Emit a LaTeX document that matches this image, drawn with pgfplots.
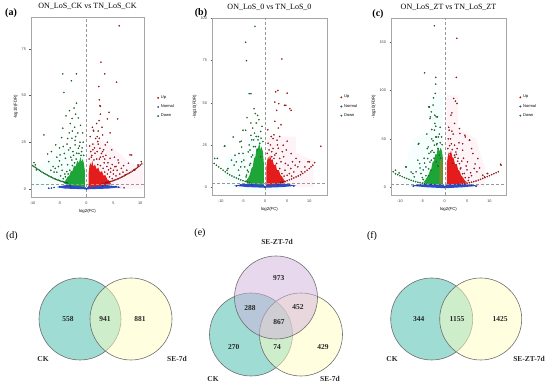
\documentclass[border=0pt]{standalone}
\usepackage{pgfplots}
\pgfplotsset{compat=1.18}
\usepackage{fontspec}
\setmainfont{Liberation Serif}
\setsansfont{Liberation Sans}
\definecolor{upred}{RGB}{228,28,28}
\definecolor{dngreen}{RGB}{30,165,55}
\definecolor{nblue}{RGB}{45,75,200}
\definecolor{pinkf}{RGB}{254,244,248}
\definecolor{cyanf}{RGB}{246,254,254}
\definecolor{olivef}{RGB}{120,140,50}
\definecolor{vteal}{RGB}{61,185,169}
\definecolor{vyellow}{RGB}{255,255,193}
\definecolor{vpurple}{RGB}{209,177,221}
\definecolor{vline}{RGB}{110,110,110}
\pgfplotsset{
 volc/.style={scale only axis, axis line style={gray!70, line width=0.4pt},
  tick align=outside, tick pos=left, major tick length=1.5pt,
  every tick/.style={gray!70!black, line width=0.3pt},
  tick label style={font=\fontsize{3.8}{4}\sffamily, text=black!75},
  /pgf/number format/assume math mode=true,
  label style={font=\fontsize{4.3}{5}\sffamily},
  title style={font=\fontsize{8}{9}\selectfont, at={(0.5,1)}, anchor=south, yshift=-1.8pt},
  legend style={at={(1.09,0.5)}, anchor=west, draw=none, fill=none, font=\fontsize{4}{5}\sffamily, row sep=0.8pt},
  legend cell align=left,
  xlabel={log2(FC)}, ylabel={-log10(FDR)},
  xlabel style={yshift=2pt}, ylabel style={yshift=-3pt}},
 ptR/.style={only marks, mark=*, mark size=0.7pt, mark options={fill=upred, draw=upred!45!black, line width=0.15pt}, forget plot},
 ptG/.style={only marks, mark=*, mark size=0.7pt, mark options={fill=dngreen, draw=dngreen!40!black, line width=0.15pt}, forget plot},
 ptB/.style={only marks, mark=*, mark size=0.7pt, mark options={fill=nblue, draw=nblue!50!black, line width=0.15pt}, forget plot},
 areaf/.style={draw=none, fill=#1, forget plot},
 dashl/.style={densely dashed, gray!80, line width=0.35pt, forget plot}
}
\newcommand{\volclegend}{%
 \addlegendimage{only marks, mark=*, mark size=0.8pt, mark options={fill=upred, draw=upred!45!black, line width=0.15pt}}
 \addlegendimage{only marks, mark=*, mark size=0.8pt, mark options={fill=nblue, draw=nblue!50!black, line width=0.15pt}}
 \addlegendimage{only marks, mark=*, mark size=0.8pt, mark options={fill=dngreen, draw=dngreen!40!black, line width=0.15pt}}
 \legend{Up,Normal,Down}}
\begin{document}
\begin{tikzpicture}
\path[use as bounding box] (0,0) rectangle (550pt,-387pt);
% ---------------- (a)
\begin{axis}[volc, at={(31pt,-197pt)}, anchor=south west, width=113pt, height=180pt,
 xmin=-10.3, xmax=10.7, ymin=-4.3, ymax=92, xtick={-10,-5,0,5,10}, ytick={0,25,50,75},
 title={ON\_LoS\_CK vs TN\_LoS\_CK}]
\addplot[areaf=pinkf] coordinates {(0.4,0)(0.4,24)(3,26)(5,22)(8,14)(10.5,12)(10.5,0)};
\addplot[areaf=cyanf] coordinates {(-0.4,0)(-0.4,20)(-4,22)(-8,14)(-10,10)(-10,0)};
\addplot[areaf=nblue] coordinates {(-5.5,1.0)(-4,2.0)(-2,2.3)(-0.5,2)(0,0.3)(0.5,2)(2,2.3)(4,2.0)(6.5,1.0)(4,0.2)(0,-0.2)(-4,0.2)};
\addplot[areaf=upred] coordinates {(0.4,1.5)(0.4,8)(0.55,12)(0.7,14)(0.9,12.5)(1.1,15)(1.3,12)(1.6,13)(1.9,10.5)(2.2,11.5)(2.5,9)(2.9,9.5)(3.2,7)(3.5,7.5)(3.9,5)(4.2,4.5)(4.6,2.5)(3,1.8)(1.5,1.5)(0.8,1)};
\addplot[areaf=dngreen] coordinates {(-0.3,1)(-0.3,10)(-0.5,14)(-0.7,16)(-0.9,14.5)(-1.1,17)(-1.4,14)(-1.7,15)(-2.0,12)(-2.3,12.5)(-2.6,9.5)(-2.9,9.5)(-3.2,7)(-3.5,6.5)(-3.9,4.5)(-4.2,3)(-3,2)(-1.5,1.5)};
\addplot[ptB] coordinates {(-6,0.8)(-5,1.2)(6,0.9)(5.5,1.3)(0,0)(-6.5,0.5)(7,0.6)(-7,0.4)(-3,1.5)(3,1.5)};
\addplot[ptR] coordinates {(6.1,87.3)(2.7,67.8)(3.4,61.6)(5.6,57.1)(2.3,54.8)(2.4,47.7)(2.5,44.6)(2.6,44.2)(2.35,36.6)(3.9,37.5)(5.8,37.5)(1.35,31)(8.1,18.2)(9.6,12.3)(10.2,14.6)(8.9,10.2)
(1.3,31.4)(2.2,31)(3.0,28.9)(2.4,27.1)(2.1,25.4)(3.5,23.6)(4.7,20.9)(8.4,18.2)(7.8,13.8)(5.9,15.5)(5.3,11.9)(4.1,10.2)(9.6,12.9)(9,10.2)(7.2,7.5)(2.5,21.8)(1.6,19.1)(3.1,17.3)(4.4,16.4)
(1.0,18)(1.5,22)(2.0,20)(2.8,19)(3.3,14)(3.8,12)(4.5,9)(5,8)(5.5,7)(4.8,13)(3.6,18)(2.2,24)(1.7,27)(6.5,11)(6.8,9)(7.5,10)(0.8,20)(1.2,24)(3.9,25)(2.9,33)(4.4,30)
(0.5,16)(0.9,17)(1.4,15.5)(1.9,16)(2.1,13)(2.6,12.5)(3.1,11)(3.4,9)(3.9,8)(4.3,6.5)(4.8,5.5)(2.4,16)(1.2,21)(0.6,23)(3.2,21)(2.0,28)
(4.5,11)(5.0,10)(6.0,14)(3.4,16)(2.6,17)(5.5,12)(6.9,12.5)(4.0,14)(3.0,20)(0.7,28)(1.1,33)(1.9,35)(2.6,40)(4.2,41)(5.2,17)(6.2,8)(5.7,10)
(5,4.5)(5.5,5)(6,5.5)(6.5,6.3)(7,7)(7.5,7.8)(8,8.6)(8.5,9.5)(9,10.5)(9.5,11.5)(10,12.8)(4.5,4)(4,3.6)(3.5,3.2)(3,3)
(5.25,4.7)(5.75,5.3)(6.25,5.9)(6.75,6.6)(7.25,7.4)(7.75,8.2)(8.25,9.0)(8.75,10.0)(9.25,11.0)(9.75,12.1)(10.3,13.4)(4.75,4.2)(4.25,3.8)(3.75,3.4)};
\addplot[ptG] coordinates {(-4.4,61.6)(-1.85,61.6)(-2.8,57.9)(-4.2,51.6)(-1.85,45.9)(-2.3,43.3)(-3.15,41.9)(-3.8,39.1)(-2.65,37.7)(-7.9,28.9)(-7.2,18.7)(-9.75,14.1)(-9.3,10.2)(-5.7,23.6)(-4.4,32.5)
(-4.6,27.5)(-2.7,27.1)(-4.3,22.7)(-2.1,23.6)(-3.3,20.9)(-4.9,18.2)(-5.8,11)(-7.0,14.6)(-2.7,15.5)(-4.6,12.9)(-3.65,9.3)(-1.8,19.1)(-1.5,21.8)(-3.9,16.4)(-9.5,12.9)
(-1.2,25)(-1.6,30)(-2.2,33)(-3.0,35)(-1.5,38)(-2.0,28)(-3.6,24)(-2.5,20)(-5.0,15)(-6.2,12)(-5.5,9)(-4.8,7)(-6.5,20)(-3.2,30)(-0.8,22)(-1.0,18)
(-0.5,18)(-0.9,20)(-1.4,19)(-1.9,16)(-2.2,14)(-2.6,12.5)(-3.1,10)(-3.4,8)(-3.9,6.5)(-4.3,5.5)(-2.4,18)(-1.3,23)(-0.6,25)(-3.0,22)(-2.1,26)
(-4.5,10)(-5.2,12)(-3.5,13)(-2.9,17)(-4.1,19)(-5.5,17)(-6.0,9)(-0.7,30)(-1.1,34)(-2.6,31)(-3.5,27)(-5.0,22)(-4.0,8)(-6.6,10)(-2.0,40)
(-10,12.5)(-9.5,11.5)(-9,10.5)(-8.5,9.5)(-8,8.6)(-7.5,7.8)(-7,7)(-6.5,6.3)(-6,5.5)(-5.5,5)(-5,4.5)(-4.5,4)(-4,3.6)(-3.5,3.2)
(-9.75,12.0)(-9.25,11.0)(-8.75,10.0)(-8.25,9.0)(-7.75,8.2)(-7.25,7.4)(-6.75,6.6)(-6.25,5.9)(-5.75,5.3)(-5.25,4.7)(-4.75,4.2)(-4.25,3.8)(-3.75,3.4)};
\addplot[dashl] coordinates {(0,-4.3)(0,92)};
\addplot[dashl] coordinates {(-10.3,2.5)(10.7,2.5)};
\volclegend
\end{axis}
% ---------------- (b)
\begin{axis}[volc, at={(212pt,-195pt)}, anchor=south west, width=115pt, height=177pt,
 xmin=-12, xmax=14, ymin=-4.7, ymax=100.3, xtick={-10,-5,0,5,10}, ytick={0,25,50,75,100},
 title={ON\_LoS\_0 vs TN\_LoS\_0}]
\addplot[areaf=pinkf] coordinates {(0.4,0)(0.4,30)(7,30)(7,20)(11,16)(11,0)};
\addplot[areaf=cyanf] coordinates {(-0.4,0)(-0.4,30)(-4,30)(-4,22)(-9,18)(-9,0)};
\addplot[areaf=cyanf] coordinates {(-6,0)(5,0)(2,-3.5)(-4,-3.5)};
\addplot[areaf=nblue] coordinates {(-7,0.8)(-5,1.8)(-2,2.3)(-0.5,2)(0,0.3)(0.5,2)(2,2.3)(5,1.8)(7,0.8)(4,0)(0,-0.4)(-4,0)};
\addplot[areaf=upred] coordinates {(0.3,1.5)(0.3,12)(0.5,16)(0.7,18)(0.9,16)(1.1,19)(1.4,16)(1.7,16.5)(2.0,13)(2.4,13.5)(2.7,10)(3.1,10)(3.5,7)(3.9,6)(4.3,4)(4.8,3)(3,1.8)(1.5,1.5)};
\addplot[areaf=dngreen] coordinates {(-0.3,1.5)(-0.3,15)(-0.5,21)(-0.8,24)(-1.0,22)(-1.3,26)(-1.6,23)(-1.9,23)(-2.2,18)(-2.5,17)(-2.8,12)(-3.1,11)(-3.5,7)(-3.8,5.5)(-4.5,3)(-3,2)(-1.5,1.5)};
\addplot[ptB] coordinates {(-6.5,0.6)(-5.5,1.2)(6.5,0.6)(5.5,1.2)(-3,1.6)(3,1.6)(0,-0.2)};
\addplot[ptR] coordinates {(3.8,76)(2.9,57.3)(2.4,56.5)(5.0,55.7)(3.1,49.5)(4.7,48.5)(2.6,45.5)(5.6,46.5)(5.9,45.5)(2.2,39)(3.6,37)(12.6,24.2)(5,27.2)(2.7,27.8)(10,15)(9,12)
(2.2,50.4)(4.4,48.5)(1.8,28.8)(4.1,24.8)(5.9,19.9)(9.7,15)(7.4,12)(8.2,9.1)(5.2,13)(3.3,17)(1.8,22.9)
(1.2,25)(2.5,20)(3,23)(3.6,15)(4.5,10)(5.5,8)(6.5,9)(2,31)(3.3,30)(4.2,18)(1.5,18)(6.2,15)(7,17)
(0.5,20)(0.9,22)(1.5,21)(2.0,17)(2.6,14)(3.3,11)(3.8,8)(4.3,6.5)(2.2,19)(0.7,26)
(4.6,14)(5.0,7)(5.8,11)(6.8,13)(3.9,21)(2.8,25)(1.4,30)(0.6,34)(3.0,35)(4.8,22)(7.8,15)(6.0,6.5)
(3.5,2.6)(4,3)(5,3.8)(6,4.8)(7,6)(8,7.3)(9,9)(10,11)(10.8,13)(11.2,14.5)
(3.75,2.8)(4.5,3.4)(5.5,4.3)(6.5,5.4)(7.5,6.6)(8.5,8.1)(9.5,10)(10.4,12)};
\addplot[ptG] coordinates {(-2.3,95.3)(-4.4,85.9)(-4.2,75)(-3.6,55.4)(-3.2,55.4)(-2.5,46.5)(-2.2,43.6)(-4.1,41.2)(-1.7,42.5)(-7.2,29.7)(-9.2,24.2)(-5.4,27.2)(-4.4,33.7)(-3.2,30.7)(-5.9,19.9)(-10.8,17)(-8.6,10)(-5.3,23.8)
(-5,33.7)(-9.1,24.4)(-11.4,17)(-5.7,26.8)(-3.8,20.9)(-6.8,18.9)(-8.4,11)(-5.3,15)(-3.5,13)(-4.2,7.1)(-3.1,17.9)
(-2,38)(-2.8,35)(-1.5,30)(-1.2,26)(-2.6,24)(-1.8,22)(-3.4,22)(-4.6,12)(-6,10)(-7,13)(-1,18)(-3,28)(-2.4,32)
(-0.5,27)(-0.9,29)(-1.6,28)(-2.2,24)(-2.8,19)(-3.3,14)(-3.8,9)(-4.3,6)(-1.0,33)(-2.6,28)
(-4.8,16)(-4.0,10)(-5.5,12)(-6.5,15)(-3.6,25)(-2.0,30)(-0.7,36)(-1.4,40)(-3.2,38)(-5.0,20)(-7.6,16)(-5.8,7)
(-11,13)(-10,11)(-9,9)(-8,7.3)(-7,6)(-6,4.8)(-5,3.8)(-4,3)(-3.5,2.6)
(-11.5,14)(-10.5,12)(-9.5,10)(-8.5,8.1)(-7.5,6.6)(-6.5,5.4)(-5.5,4.3)(-4.5,3.4)};
\addplot[dashl] coordinates {(0,-4.7)(0,100.3)};
\addplot[dashl] coordinates {(-12,2.4)(14,2.4)};
\volclegend
\end{axis}
% ---------------- (c)
\begin{axis}[volc, at={(391pt,-195pt)}, anchor=south west, width=115pt, height=177pt,
 xmin=-12, xmax=13.7, ymin=-8, ymax=175, xtick={-10,-5,0,5,10}, ytick={0,50,100,150},
 title={ON\_LoS\_ZT vs TN\_LoS\_ZT}]
\addplot[areaf=pinkf] coordinates {(0.4,0)(0.4,95)(3,95)(3,60)(7,50)(9,20)(9,0)};
\addplot[areaf=cyanf] coordinates {(-0.4,0)(-0.4,95)(-3,95)(-3,60)(-7,50)(-9,20)(-9,0)};
\addplot[areaf=cyanf] coordinates {(-6,0)(6,0)(3,-6)(-3,-6)};
\addplot[areaf=nblue] coordinates {(-7.5,1.5)(-5,3.5)(-2,4.5)(-0.5,4)(0,1)(0.5,4)(2,4.5)(5,3.5)(7.5,1.5)(4,0)(0,-1)(-4,0)};
\addplot[areaf=upred] coordinates {(0.5,3)(0.5,25)(0.7,32)(0.9,36)(1.1,32)(1.4,38)(1.7,31)(2.0,30)(2.3,24)(2.7,24)(3.0,18)(3.3,17)(3.7,12)(4.1,10)(4.5,7)(5,5)(3,3.5)(1.5,3)};
\addplot[areaf=dngreen] coordinates {(-0.4,3)(-0.4,30)(-0.6,37)(-0.9,41)(-1.2,37)(-1.5,42)(-1.8,34)(-2.1,34)(-2.4,27)(-2.7,26)(-3.0,19)(-3.3,17)(-3.7,12)(-4,10)(-4.4,7)(-4.8,5)(-3,3.5)(-1.5,3)};
\addplot[areaf=olivef] coordinates {(-1.2,4)(-1.1,26)(-0.8,32)(-0.5,26)(-0.45,4)};
\addplot[ptB] coordinates {(-7,1)(-6,2)(7,1)(6,2)(-3,3)(3,3)(0,0)};
\addplot[ptR] coordinates {(2.7,154)(2.6,113.6)(2.0,91.8)(2.4,89)(2.75,86.6)(1.6,76.9)(1.6,58)(3.4,55.6)(4.5,53.8)(5.6,48.7)(2.5,36.5)(12.5,23.8)(9.5,14.2)(8.9,10.7)
(1.4,74.5)(1.0,59)(3.3,60.7)(4.6,52)(5.5,48.7)(2.2,43.5)(4,38.3)(6.3,34.9)(7.4,29.7)(5.1,26.2)(3.3,24.5)(2.2,33.1)(8.5,12.4)(9.6,14.2)(12.6,22.8)(6.6,19.4)(4.4,14.2)
(1.5,45)(3,30)(1.2,35)(2.8,40)(3.6,20)(5,18)(1.8,25)(4.2,30)(6,12)(0.8,50)(2.2,66)
(0.7,40)(1.1,43)(1.7,39)(2.3,31)(2.9,27)(3.5,19)(4.0,14)(4.6,10)(5.3,7)(1.3,50)(2.6,34)
(4.8,22)(5.8,15)(3.8,27)(6.8,24)(7.2,16)(5.4,10)(3.2,46)(1.9,55)(0.9,62)(4.0,45)(6.0,40)(7.8,20)
(4,3.5)(5,4.2)(6,5.2)(7,6.5)(8,8.2)(9,10)(10,12)(11,14)(12,16)
(4.5,3.8)(5.5,4.7)(6.5,5.8)(7.5,7.3)(8.5,9.1)(9.5,11)(10.5,13)(11.5,15)};
\addplot[ptG] coordinates {(-2.3,167)(-4.5,118.3)(-2.0,113.6)(-2.0,106.6)(-2.1,97)(-2.5,92.4)(-3.6,83.1)(-3.0,78)(-2.2,74.5)(-3.2,72.8)(-1.6,72.8)(-2,63.1)(-2.3,59)(-2,52)(-5.9,44.5)(-3.7,41.7)(-1.7,45.2)(-11,17.6)(-10.2,14.8)(-8.6,21)(-5.6,24.5)(-7.1,14.2)
(-3.4,83)(-3.3,71)(-1.9,72.8)(-2.9,59.7)(-1.8,52)(-5.8,45.2)(-2.3,43.5)(-3.1,36.5)(-1.2,33.1)(-3.8,29.7)(-1.9,26.2)(-4.2,21)(-7.5,15.8)(-8.7,21)(-5.3,14.2)(-3.1,17.6)(-6.8,10.7)
(-1.5,40)(-2.6,48)(-1.2,55)(-3.5,35)(-2.4,30)(-4.5,25)(-1.5,22)(-3.6,12)(-4.8,18)(-2.2,66)(-0.9,30)
(-0.6,44)(-1.0,46)(-1.8,44)(-2.4,36)(-3.0,28)(-3.6,19)(-4.2,12)(-4.8,8)(-1.4,52)(-2.8,38)
(-4.6,30)(-5.5,20)(-6.4,16)(-3.9,40)(-2.9,50)(-1.0,62)(-0.7,52)(-4.0,55)(-5.0,10)(-6.0,28)(-3.3,26)(-2.6,85)
(-11.5,16)(-11,14)(-10,12)(-9,10)(-8,8.2)(-7,6.5)(-6,5.2)(-5,4.2)(-4,3.5)
(-10.5,13)(-9.5,11)(-8.5,9.1)(-7.5,7.3)(-6.5,5.8)(-5.5,4.7)(-4.5,3.8)};
\addplot[dashl] coordinates {(0,-8)(0,175)};
\addplot[dashl] coordinates {(-12,3)(13.7,3)};
\volclegend
\end{axis}
% ---------------- Venn diagrams (1 axis unit = 1pt; origin at (0,-387pt))
\begin{axis}[at={(0pt,-387pt)}, anchor=south west, width=550pt, height=187pt, scale only axis,
 hide axis, xmin=0, xmax=550, ymin=0, ymax=187, clip=false]
% (d)
\addplot[only marks, mark=*, mark size=41pt, mark options={fill=vteal, fill opacity=0.5, draw=vline, line width=0.6pt}] coordinates {(80,68)};
\addplot[only marks, mark=*, mark size=41pt, mark options={fill=vyellow, fill opacity=0.5, draw=vline, line width=0.6pt}] coordinates {(131,68)};
% (e)
\addplot[only marks, mark=*, mark size=41.5pt, mark options={fill=vteal, fill opacity=0.5, draw=vline, line width=0.6pt}] coordinates {(251,52.5)};
\addplot[only marks, mark=*, mark size=41.5pt, mark options={fill=vyellow, fill opacity=0.5, draw=vline, line width=0.6pt}] coordinates {(301,52.5)};
\addplot[only marks, mark=*, mark size=41.5pt, mark options={fill=vpurple, fill opacity=0.5, draw=vline, line width=0.6pt}] coordinates {(276,89.5)};
% (f)
\addplot[only marks, mark=*, mark size=41pt, mark options={fill=vteal, fill opacity=0.5, draw=vline, line width=0.6pt}] coordinates {(431.7,68)};
\addplot[only marks, mark=*, mark size=41pt, mark options={fill=vyellow, fill opacity=0.5, draw=vline, line width=0.6pt}] coordinates {(480.7,68)};
\end{axis}
% Venn texts (placed after the circles so they are not covered)
\begin{scope}[shift={(0pt,-387pt)}, every node/.style={font=\fontsize{7.5}{9}\selectfont\bfseries, text=black!85}]
\node at (68pt,68pt) {558};
\node at (105pt,68pt) {941};
\node at (140pt,68pt) {881};
\node at (43pt,28pt) {CK};
\node at (177pt,28pt) {SE-7d};
\node at (278.7pt,109.3pt) {973};
\node at (250pt,79.3pt) {288};
\node at (298pt,80pt) {452};
\node at (279pt,65pt) {867};
\node at (233.7pt,40.3pt) {270};
\node at (277pt,40pt) {74};
\node at (323pt,40pt) {429};
\node at (277pt,145pt) {SE-ZT-7d};
\node at (213pt,8pt) {CK};
\node at (330pt,8pt) {SE-7d};
\node at (418.7pt,68pt) {344};
\node at (457pt,68pt) {1155};
\node at (500pt,68pt) {1425};
\node at (392pt,28pt) {CK};
\node at (529pt,28pt) {SE-ZT-7d};
\end{scope}
\begin{scope}[shift={(0pt,-387pt)}, every node/.style={font=\fontsize{10}{12}\selectfont}]
\node at (12pt,151pt) {(d)};
\node at (200pt,154pt) {(e)};
\node at (372pt,151pt) {(f)};
\end{scope}
% panel labels top
\node[font=\fontsize{10}{12}\selectfont\bfseries] at (11pt,-13pt) {(a)};
\node[font=\fontsize{10}{12}\selectfont\bfseries] at (201pt,-13pt) {(b)};
\node[font=\fontsize{10}{12}\selectfont\bfseries] at (378pt,-14pt) {(c)};
\end{tikzpicture}
\end{document}
